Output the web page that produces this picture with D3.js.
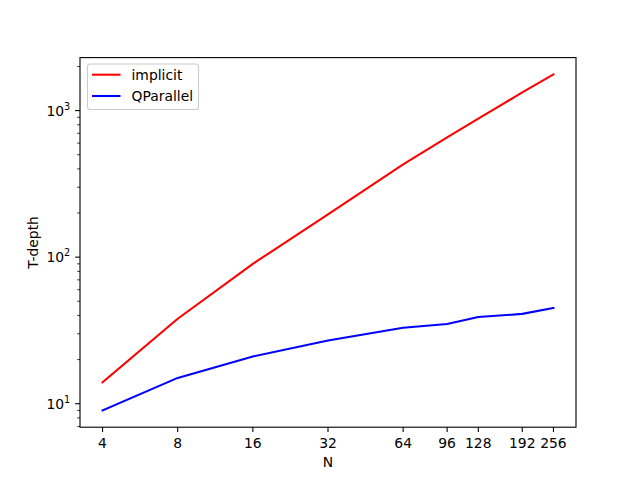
<!DOCTYPE html>
<html>
<head>
<meta charset="utf-8">
<script src="https://cdn.jsdelivr.net/npm/d3@7"></script>
<style>
  body { margin: 0; background: #fff; }
  text { font-family: "DejaVu Sans", sans-serif; fill: #000; }
</style>
</head>
<body>
<script>
var width = 640,
    height = 480;

var N = [4, 8, 16, 32, 64, 96, 128, 192, 256];
var implicit = [14, 38, 90, 196, 430, 656, 880, 1330, 1766];
var qparallel = [9, 15, 21, 27, 33, 35, 39, 41, 45];
var xTicks = [4, 8, 16, 32, 64, 96, 128, 192, 256];
var yTicks = [10, 100, 1000];

// plot box (window.top is reserved, so use other names)
var pLeft = 80, pRight = 576, pTop = 57.6, pBottom = 427.2;

var svg = d3.select("body").append("svg")
    .attr("width", width)
    .attr("height", height);

// matplotlib style 5% margins in log space
var lx0 = Math.log2(d3.min(N)), lx1 = Math.log2(d3.max(N)), mx = (lx1 - lx0) * 0.05;
var all = implicit.concat(qparallel);
var ly0 = Math.log10(d3.min(all)), ly1 = Math.log10(d3.max(all)), my = (ly1 - ly0) * 0.05;

var x = d3.scaleLog().base(2)
    .domain([Math.pow(2, lx0 - mx), Math.pow(2, lx1 + mx)])
    .range([pLeft, pRight]);

var y = d3.scaleLog()
    .domain([Math.pow(10, ly0 - my), Math.pow(10, ly1 + my)])
    .range([pBottom, pTop]);

var fs = 13.9;

// x axis
var xAxis = svg.append("g").attr("transform", "translate(0," + pBottom + ")");
xTicks.forEach(function (t) {
  xAxis.append("line").attr("x1", x(t)).attr("x2", x(t))
    .attr("y1", 0).attr("y2", 4.86).attr("stroke", "#000").attr("stroke-width", 1.1);
  xAxis.append("text").attr("x", x(t)).attr("y", 4.86 + 4.86 + 11)
    .attr("text-anchor", "middle").style("font-size", fs + "px").text(t);
});

// y axis: major + minor ticks
var yAxis = svg.append("g").attr("transform", "translate(" + pLeft + ",0)");
var dom = y.domain();
for (var d = 1; d <= 1000; d *= 10) {
  for (var k = 1; k < 10; k++) {
    var v = d * k;
    if (v < dom[0] || v > dom[1]) continue;
    var major = k === 1;
    yAxis.append("line").attr("x1", 0).attr("x2", major ? -4.86 : -2.78)
      .attr("y1", y(v)).attr("y2", y(v))
      .attr("stroke", "#000").attr("stroke-width", major ? 1.1 : 0.8);
  }
}
yTicks.forEach(function (t) {
  var lab = yAxis.append("text").attr("x", -4.86 - 4.86).attr("y", y(t) + 5)
    .attr("text-anchor", "end").style("font-size", fs + "px");
  lab.append("tspan").text("10");
  lab.append("tspan").attr("dy", -6).style("font-size", "9.7px").text(Math.round(Math.log10(t)));
});

// lines
var line = d3.line()
  .x(function (d) { return x(d[0]); })
  .y(function (d) { return y(d[1]); });

var series = [
  { name: "implicit", values: implicit, color: "#ff0000" },
  { name: "QParallel", values: qparallel, color: "#0000ff" }
];

svg.selectAll("path.series")
  .data(series)
  .enter().append("path")
  .attr("class", "series")
  .attr("d", function (s) { return line(N.map(function (n, i) { return [n, s.values[i]]; })); })
  .attr("fill", "none")
  .attr("stroke", function (s) { return s.color; })
  .attr("stroke-width", 2.08)
  .attr("stroke-linejoin", "round")
  .attr("stroke-linecap", "square");

// frame
svg.append("rect")
  .attr("x", pLeft).attr("y", pTop)
  .attr("width", pRight - pLeft).attr("height", pBottom - pTop)
  .attr("fill", "none").attr("stroke", "#000").attr("stroke-width", 1.1);

// axis labels
svg.append("text").attr("x", (pLeft + pRight) / 2).attr("y", 467)
  .attr("text-anchor", "middle").style("font-size", fs + "px").text("N");
svg.append("text")
  .attr("transform", "translate(38," + (pTop + pBottom) / 2 + ") rotate(-90)")
  .attr("text-anchor", "middle").style("font-size", fs + "px").text("T-depth");

// legend
var lg = svg.append("g");
lg.append("rect").attr("x", 87.5).attr("y", 64).attr("width", 111).attr("height", 45.5)
  .attr("rx", 2.8).attr("fill", "#fff").attr("fill-opacity", 0.8)
  .attr("stroke", "#cccccc").attr("stroke-width", 1.1);
series.forEach(function (s, i) {
  var ly = 74.7 + i * 21.3;
  lg.append("line").attr("x1", 92).attr("x2", 120.5).attr("y1", ly).attr("y2", ly)
    .attr("stroke", s.color).attr("stroke-width", 2.08);
  lg.append("text").attr("x", 131.5).attr("y", ly + 5)
    .style("font-size", fs + "px").text(s.name);
});
</script>
</body>
</html>
